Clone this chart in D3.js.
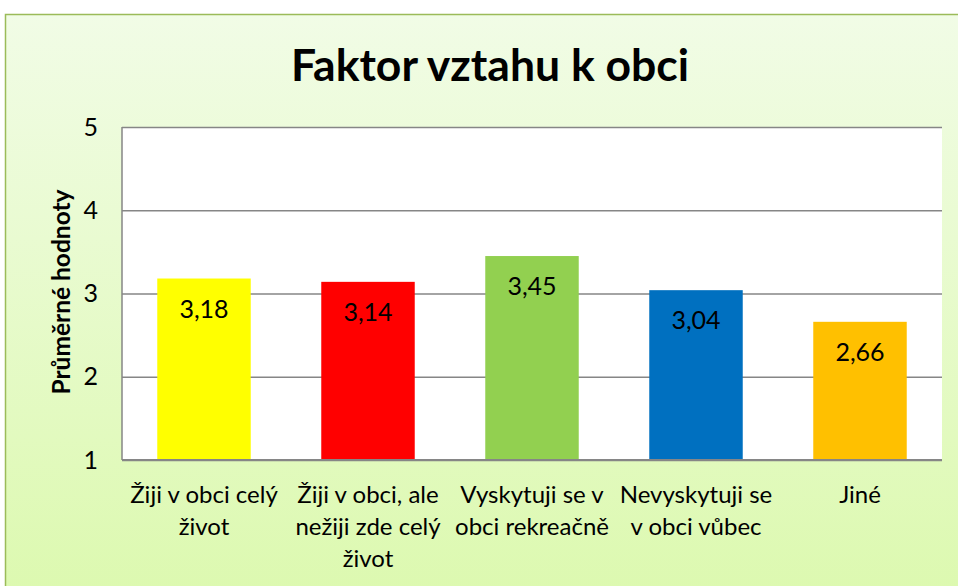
<!DOCTYPE html>
<html>
<meta charset="utf-8">
<style>
  body { margin: 0; background: #fff; }
  text { font-family: Lato, "Open Sans", sans-serif; fill: #000; }
</style>
<script src="https://cdn.jsdelivr.net/npm/d3@7"></script>
<body>
<script>
  var svgWidth = 958, svgHeight = 586;

  var categories = [
    ["Žiji v obci celý", "život"],
    ["Žiji v obci, ale", "nežiji zde celý", "život"],
    ["Vyskytuji se v", "obci rekreačně"],
    ["Nevyskytuji se", "v obci vůbec"],
    ["Jiné"]
  ];
  var values = [3.18, 3.14, 3.45, 3.04, 2.66];
  var valueLabels = ["3,18", "3,14", "3,45", "3,04", "2,66"];
  var barColors = ["#ffff00", "#ff0000", "#92d050", "#0070c0", "#ffc000"];
  var yTicks = [1, 2, 3, 4, 5];

  var svg = d3.select("body").append("svg")
    .attr("width", svgWidth)
    .attr("height", svgHeight);

  // background panel
  var defs = svg.append("defs");
  var grad = defs.append("linearGradient").attr("id", "bg")
    .attr("x1", 0).attr("y1", 0).attr("x2", 0).attr("y2", 1);
  grad.append("stop").attr("offset", "0%").attr("stop-color", "#f1fce6");
  grad.append("stop").attr("offset", "100%").attr("stop-color", "#dbf9ac");

  svg.append("rect")
    .attr("x", 5.5).attr("y", 14.5)
    .attr("width", 1000).attr("height", 620)
    .attr("fill", "url(#bg)")
    .attr("stroke", "#9bbb59")
    .attr("stroke-width", 1.5);

  var margin = { left: 122, right: 16, top: 127, bottom: 126 };
  var x = d3.scaleBand()
    .domain(d3.range(values.length))
    .range([margin.left, svgWidth - margin.right])
    .paddingInner(0.43).paddingOuter(0.215);
  var y = d3.scaleLinear().domain([1, 5]).range([svgHeight - margin.bottom, margin.top]);

  // plot area
  svg.append("rect")
    .attr("x", margin.left).attr("y", margin.top)
    .attr("width", svgWidth - margin.right - margin.left)
    .attr("height", y(1) - y(5))
    .attr("fill", "#fff");

  // gridlines + y axis
  var yAxis = svg.append("g")
    .attr("transform", "translate(" + margin.left + ",0)")
    .call(d3.axisLeft(y).tickValues(yTicks)
      .tickSize(-(svgWidth - margin.right - margin.left))
      .tickPadding(24)
      .tickFormat(d3.format("d")));
  yAxis.select(".domain").remove();
  yAxis.selectAll("line").attr("stroke", "#868686").attr("stroke-width", 1.5);
  yAxis.selectAll("text").attr("font-size", 25).attr("font-family", "Lato, sans-serif");

  svg.append("line")
    .attr("x1", margin.left).attr("x2", margin.left)
    .attr("y1", y(5)).attr("y2", y(1))
    .attr("stroke", "#868686").attr("stroke-width", 1.5);

  // bars
  svg.selectAll(".bar")
    .data(values)
    .enter().append("rect")
    .attr("class", "bar")
    .attr("x", function(d, i) { return x(i); })
    .attr("y", function(d) { return y(d); })
    .attr("width", x.bandwidth())
    .attr("height", function(d) { return y(1) - y(d); })
    .attr("fill", function(d, i) { return barColors[i]; });

  // bottom axis line over bars
  svg.append("line")
    .attr("x1", margin.left).attr("x2", svgWidth - margin.right)
    .attr("y1", y(1)).attr("y2", y(1))
    .attr("stroke", "#868686").attr("stroke-width", 2);

  // value labels
  svg.selectAll(".val")
    .data(values)
    .enter().append("text")
    .attr("class", "val")
    .attr("x", function(d, i) { return x(i) + x.bandwidth() / 2; })
    .attr("y", function(d) { return y(d) + 39; })
    .attr("text-anchor", "middle")
    .attr("font-size", 25)
    .text(function(d, i) { return valueLabels[i]; });

  // category labels
  var cat = svg.selectAll(".cat")
    .data(categories)
    .enter().append("text")
    .attr("class", "cat")
    .attr("text-anchor", "middle")
    .attr("font-size", 24)
    .attr("transform", function(d, i) {
      return "translate(" + (x(i) + x.bandwidth() / 2) + "," + 503 + ")";
    });
  cat.selectAll("tspan")
    .data(function(d) { return d; })
    .enter().append("tspan")
    .attr("x", 0)
    .attr("dy", function(d, i) { return i === 0 ? 0 : 32; })
    .text(function(d) { return d; });

  // y axis title
  svg.append("text")
    .attr("transform", "translate(70," + 292 + ") rotate(-90)")
    .attr("text-anchor", "middle")
    .attr("font-size", 24.5)
    .attr("font-weight", "bold")
    .text("Průměrné hodnoty");

  // title
  svg.append("text")
    .attr("x", 490).attr("y", 81)
    .attr("text-anchor", "middle")
    .attr("font-size", 44.5)
    .attr("font-weight", "bold")
    .text("Faktor vztahu k obci");
</script>
</body>
</html>
